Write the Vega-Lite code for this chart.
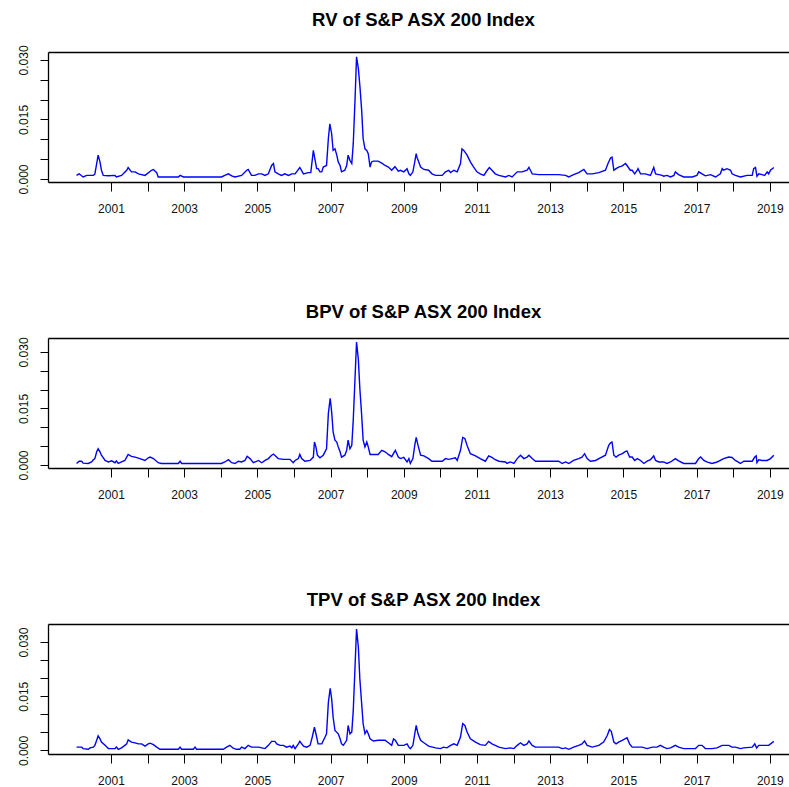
{
  "$schema": "https://vega.github.io/schema/vega-lite/v6.json",
  "padding": {"left": 16, "top": 11, "right": 0, "bottom": 0},
  "spacing": 156,
  "bounds": "flush",
  "config": {
    "font": "Liberation Sans",
    "view": {"stroke": null},
    "axis": {"grid": false, "domainColor": "#000", "tickColor": "#000", "labelColor": "#111", "labelFont": "Liberation Sans", "labelFontSize": 12, "domainWidth": 1.3, "tickWidth": 1},
    "title": {"font": "Liberation Sans", "fontSize": 18.5, "fontWeight": "bold", "color": "#000", "anchor": "middle", "baseline": "alphabetic", "offset": 15, "dx": 4}
  },
  "datasets": {
    "rv": [
{"t":2000.06,"v":0.0009},{"t":2000.13,"v":0.0013},{"t":2000.24,"v":0.0005},{"t":2000.34,"v":0.0009},{"t":2000.52,"v":0.0009},{"t":2000.56,"v":0.0012},{"t":2000.65,"v":0.0060},{"t":2000.70,"v":0.0043},{"t":2000.74,"v":0.0022},{"t":2000.79,"v":0.0009},{"t":2000.93,"v":0.0008},{"t":2001.11,"v":0.0009},{"t":2001.15,"v":0.0005},{"t":2001.29,"v":0.0009},{"t":2001.43,"v":0.0022},{"t":2001.47,"v":0.0029},{"t":2001.56,"v":0.0018},{"t":2001.66,"v":0.0018},{"t":2001.75,"v":0.0013},{"t":2001.93,"v":0.0009},{"t":2002.11,"v":0.0022},{"t":2002.16,"v":0.0024},{"t":2002.25,"v":0.0016},{"t":2002.29,"v":0.0005},{"t":2002.84,"v":0.0005},{"t":2002.89,"v":0.0009},{"t":2002.98,"v":0.0005},{"t":2004.02,"v":0.0005},{"t":2004.11,"v":0.0009},{"t":2004.21,"v":0.0013},{"t":2004.30,"v":0.0008},{"t":2004.39,"v":0.0005},{"t":2004.57,"v":0.0009},{"t":2004.71,"v":0.0022},{"t":2004.75,"v":0.0024},{"t":2004.84,"v":0.0009},{"t":2004.93,"v":0.0009},{"t":2005.03,"v":0.0013},{"t":2005.12,"v":0.0013},{"t":2005.21,"v":0.0009},{"t":2005.30,"v":0.0013},{"t":2005.39,"v":0.0034},{"t":2005.44,"v":0.0039},{"t":2005.48,"v":0.0018},{"t":2005.57,"v":0.0013},{"t":2005.66,"v":0.0009},{"t":2005.75,"v":0.0013},{"t":2005.85,"v":0.0009},{"t":2005.94,"v":0.0013},{"t":2006.03,"v":0.0013},{"t":2006.16,"v":0.0029},{"t":2006.26,"v":0.0013},{"t":2006.39,"v":0.0016},{"t":2006.46,"v":0.0016},{"t":2006.53,"v":0.0072},{"t":2006.57,"v":0.0051},{"t":2006.62,"v":0.0026},{"t":2006.66,"v":0.0026},{"t":2006.71,"v":0.0018},{"t":2006.76,"v":0.0018},{"t":2006.80,"v":0.0030},{"t":2006.89,"v":0.0034},{"t":2006.94,"v":0.0102},{"t":2006.98,"v":0.0139},{"t":2007.03,"v":0.0114},{"t":2007.07,"v":0.0072},{"t":2007.12,"v":0.0076},{"t":2007.17,"v":0.0060},{"t":2007.21,"v":0.0043},{"t":2007.26,"v":0.0034},{"t":2007.30,"v":0.0018},{"t":2007.39,"v":0.0022},{"t":2007.44,"v":0.0034},{"t":2007.48,"v":0.0060},{"t":2007.53,"v":0.0047},{"t":2007.58,"v":0.0039},{"t":2007.62,"v":0.0089},{"t":2007.67,"v":0.0203},{"t":2007.71,"v":0.0308},{"t":2007.76,"v":0.0278},{"t":2007.80,"v":0.0236},{"t":2007.85,"v":0.0173},{"t":2007.89,"v":0.0102},{"t":2007.94,"v":0.0076},{"t":2007.99,"v":0.0072},{"t":2008.03,"v":0.0064},{"t":2008.08,"v":0.0030},{"t":2008.12,"v":0.0043},{"t":2008.17,"v":0.0045},{"t":2008.30,"v":0.0045},{"t":2008.40,"v":0.0040},{"t":2008.49,"v":0.0034},{"t":2008.58,"v":0.0030},{"t":2008.67,"v":0.0022},{"t":2008.76,"v":0.0031},{"t":2008.85,"v":0.0020},{"t":2008.91,"v":0.0022},{"t":2009.00,"v":0.0018},{"t":2009.09,"v":0.0026},{"t":2009.14,"v":0.0013},{"t":2009.18,"v":0.0009},{"t":2009.25,"v":0.0018},{"t":2009.30,"v":0.0043},{"t":2009.34,"v":0.0064},{"t":2009.36,"v":0.0055},{"t":2009.41,"v":0.0043},{"t":2009.46,"v":0.0030},{"t":2009.55,"v":0.0024},{"t":2009.68,"v":0.0022},{"t":2009.77,"v":0.0013},{"t":2009.87,"v":0.0009},{"t":2010.05,"v":0.0009},{"t":2010.14,"v":0.0018},{"t":2010.23,"v":0.0022},{"t":2010.28,"v":0.0016},{"t":2010.37,"v":0.0022},{"t":2010.46,"v":0.0018},{"t":2010.55,"v":0.0039},{"t":2010.59,"v":0.0076},{"t":2010.64,"v":0.0072},{"t":2010.73,"v":0.0060},{"t":2010.82,"v":0.0043},{"t":2010.91,"v":0.0030},{"t":2011.00,"v":0.0018},{"t":2011.09,"v":0.0013},{"t":2011.19,"v":0.0009},{"t":2011.28,"v":0.0022},{"t":2011.34,"v":0.0029},{"t":2011.41,"v":0.0022},{"t":2011.50,"v":0.0013},{"t":2011.60,"v":0.0009},{"t":2011.78,"v":0.0005},{"t":2011.87,"v":0.0009},{"t":2011.96,"v":0.0005},{"t":2012.10,"v":0.0018},{"t":2012.23,"v":0.0018},{"t":2012.37,"v":0.0022},{"t":2012.42,"v":0.0029},{"t":2012.46,"v":0.0022},{"t":2012.51,"v":0.0013},{"t":2012.69,"v":0.0011},{"t":2013.05,"v":0.0011},{"t":2013.23,"v":0.0011},{"t":2013.42,"v":0.0009},{"t":2013.51,"v":0.0005},{"t":2013.64,"v":0.0011},{"t":2013.78,"v":0.0016},{"t":2013.92,"v":0.0024},{"t":2014.01,"v":0.0013},{"t":2014.15,"v":0.0013},{"t":2014.33,"v":0.0016},{"t":2014.51,"v":0.0022},{"t":2014.58,"v":0.0039},{"t":2014.65,"v":0.0053},{"t":2014.69,"v":0.0055},{"t":2014.74,"v":0.0022},{"t":2014.80,"v":0.0026},{"t":2014.87,"v":0.0030},{"t":2014.97,"v":0.0033},{"t":2015.06,"v":0.0039},{"t":2015.10,"v":0.0034},{"t":2015.19,"v":0.0022},{"t":2015.24,"v":0.0022},{"t":2015.31,"v":0.0013},{"t":2015.38,"v":0.0022},{"t":2015.40,"v":0.0026},{"t":2015.47,"v":0.0013},{"t":2015.60,"v":0.0013},{"t":2015.74,"v":0.0009},{"t":2015.83,"v":0.0029},{"t":2015.88,"v":0.0013},{"t":2015.97,"v":0.0011},{"t":2016.06,"v":0.0009},{"t":2016.10,"v":0.0007},{"t":2016.19,"v":0.0009},{"t":2016.29,"v":0.0005},{"t":2016.38,"v":0.0009},{"t":2016.42,"v":0.0018},{"t":2016.51,"v":0.0011},{"t":2016.65,"v":0.0005},{"t":2016.88,"v":0.0005},{"t":2017.01,"v":0.0009},{"t":2017.06,"v":0.0018},{"t":2017.15,"v":0.0013},{"t":2017.24,"v":0.0008},{"t":2017.38,"v":0.0011},{"t":2017.52,"v":0.0005},{"t":2017.65,"v":0.0013},{"t":2017.70,"v":0.0026},{"t":2017.74,"v":0.0022},{"t":2017.83,"v":0.0026},{"t":2017.93,"v":0.0022},{"t":2017.97,"v":0.0013},{"t":2018.06,"v":0.0009},{"t":2018.20,"v":0.0005},{"t":2018.38,"v":0.0009},{"t":2018.52,"v":0.0009},{"t":2018.56,"v":0.0026},{"t":2018.61,"v":0.0029},{"t":2018.65,"v":0.0007},{"t":2018.70,"v":0.0013},{"t":2018.79,"v":0.0011},{"t":2018.86,"v":0.0009},{"t":2018.93,"v":0.0018},{"t":2018.97,"v":0.0013},{"t":2019.02,"v":0.0022},{"t":2019.11,"v":0.0029}
    ],
    "bpv": [
{"t":2000.06,"v":0.0004},{"t":2000.13,"v":0.0010},{"t":2000.20,"v":0.0010},{"t":2000.24,"v":0.0005},{"t":2000.38,"v":0.0004},{"t":2000.47,"v":0.0008},{"t":2000.52,"v":0.0014},{"t":2000.56,"v":0.0017},{"t":2000.61,"v":0.0035},{"t":2000.65,"v":0.0043},{"t":2000.70,"v":0.0035},{"t":2000.74,"v":0.0026},{"t":2000.84,"v":0.0012},{"t":2000.93,"v":0.0008},{"t":2001.02,"v":0.0011},{"t":2001.11,"v":0.0006},{"t":2001.15,"v":0.0011},{"t":2001.20,"v":0.0004},{"t":2001.29,"v":0.0008},{"t":2001.38,"v":0.0012},{"t":2001.43,"v":0.0021},{"t":2001.47,"v":0.0028},{"t":2001.56,"v":0.0023},{"t":2001.66,"v":0.0021},{"t":2001.79,"v":0.0017},{"t":2001.93,"v":0.0012},{"t":2002.02,"v":0.0019},{"t":2002.07,"v":0.0021},{"t":2002.16,"v":0.0017},{"t":2002.29,"v":0.0006},{"t":2002.38,"v":0.0004},{"t":2002.84,"v":0.0004},{"t":2002.89,"v":0.0010},{"t":2002.93,"v":0.0004},{"t":2004.02,"v":0.0004},{"t":2004.11,"v":0.0008},{"t":2004.21,"v":0.0014},{"t":2004.30,"v":0.0006},{"t":2004.39,"v":0.0004},{"t":2004.48,"v":0.0010},{"t":2004.57,"v":0.0008},{"t":2004.66,"v":0.0012},{"t":2004.72,"v":0.0023},{"t":2004.80,"v":0.0017},{"t":2004.89,"v":0.0006},{"t":2005.03,"v":0.0012},{"t":2005.12,"v":0.0006},{"t":2005.21,"v":0.0012},{"t":2005.30,"v":0.0017},{"t":2005.39,"v":0.0026},{"t":2005.44,"v":0.0029},{"t":2005.57,"v":0.0017},{"t":2005.71,"v":0.0015},{"t":2005.89,"v":0.0015},{"t":2005.98,"v":0.0006},{"t":2006.03,"v":0.0012},{"t":2006.12,"v":0.0017},{"t":2006.16,"v":0.0028},{"t":2006.21,"v":0.0017},{"t":2006.30,"v":0.0010},{"t":2006.44,"v":0.0012},{"t":2006.53,"v":0.0021},{"t":2006.56,"v":0.0061},{"t":2006.60,"v":0.0048},{"t":2006.64,"v":0.0026},{"t":2006.71,"v":0.0019},{"t":2006.80,"v":0.0026},{"t":2006.89,"v":0.0043},{"t":2006.94,"v":0.0137},{"t":2006.99,"v":0.0177},{"t":2007.03,"v":0.0141},{"t":2007.07,"v":0.0088},{"t":2007.12,"v":0.0066},{"t":2007.17,"v":0.0061},{"t":2007.21,"v":0.0048},{"t":2007.26,"v":0.0035},{"t":2007.30,"v":0.0021},{"t":2007.39,"v":0.0026},{"t":2007.44,"v":0.0039},{"t":2007.48,"v":0.0066},{"t":2007.53,"v":0.0043},{"t":2007.58,"v":0.0052},{"t":2007.62,"v":0.0119},{"t":2007.67,"v":0.0234},{"t":2007.71,"v":0.0326},{"t":2007.76,"v":0.0279},{"t":2007.80,"v":0.0203},{"t":2007.85,"v":0.0132},{"t":2007.89,"v":0.0066},{"t":2007.94,"v":0.0048},{"t":2007.99,"v":0.0061},{"t":2008.03,"v":0.0048},{"t":2008.08,"v":0.0028},{"t":2008.17,"v":0.0028},{"t":2008.30,"v":0.0028},{"t":2008.40,"v":0.0039},{"t":2008.49,"v":0.0035},{"t":2008.58,"v":0.0028},{"t":2008.67,"v":0.0022},{"t":2008.77,"v":0.0039},{"t":2008.85,"v":0.0021},{"t":2008.91,"v":0.0017},{"t":2009.00,"v":0.0020},{"t":2009.09,"v":0.0008},{"t":2009.14,"v":0.0017},{"t":2009.18,"v":0.0004},{"t":2009.25,"v":0.0017},{"t":2009.30,"v":0.0052},{"t":2009.34,"v":0.0073},{"t":2009.39,"v":0.0052},{"t":2009.46,"v":0.0026},{"t":2009.55,"v":0.0024},{"t":2009.68,"v":0.0017},{"t":2009.77,"v":0.0010},{"t":2010.05,"v":0.0010},{"t":2010.14,"v":0.0017},{"t":2010.23,"v":0.0015},{"t":2010.32,"v":0.0017},{"t":2010.41,"v":0.0019},{"t":2010.46,"v":0.0012},{"t":2010.55,"v":0.0039},{"t":2010.61,"v":0.0073},{"t":2010.67,"v":0.0070},{"t":2010.73,"v":0.0052},{"t":2010.82,"v":0.0030},{"t":2010.96,"v":0.0024},{"t":2011.09,"v":0.0017},{"t":2011.23,"v":0.0010},{"t":2011.32,"v":0.0024},{"t":2011.41,"v":0.0020},{"t":2011.50,"v":0.0014},{"t":2011.60,"v":0.0010},{"t":2011.78,"v":0.0008},{"t":2011.82,"v":0.0004},{"t":2011.91,"v":0.0008},{"t":2012.01,"v":0.0004},{"t":2012.10,"v":0.0017},{"t":2012.19,"v":0.0026},{"t":2012.28,"v":0.0017},{"t":2012.37,"v":0.0021},{"t":2012.42,"v":0.0026},{"t":2012.51,"v":0.0017},{"t":2012.60,"v":0.0010},{"t":2013.23,"v":0.0010},{"t":2013.33,"v":0.0004},{"t":2013.42,"v":0.0008},{"t":2013.51,"v":0.0004},{"t":2013.64,"v":0.0012},{"t":2013.78,"v":0.0017},{"t":2013.87,"v":0.0021},{"t":2013.94,"v":0.0030},{"t":2014.01,"v":0.0017},{"t":2014.10,"v":0.0010},{"t":2014.24,"v":0.0012},{"t":2014.37,"v":0.0019},{"t":2014.51,"v":0.0026},{"t":2014.60,"v":0.0052},{"t":2014.65,"v":0.0059},{"t":2014.69,"v":0.0061},{"t":2014.74,"v":0.0026},{"t":2014.80,"v":0.0021},{"t":2014.87,"v":0.0026},{"t":2014.97,"v":0.0030},{"t":2015.06,"v":0.0036},{"t":2015.10,"v":0.0037},{"t":2015.17,"v":0.0021},{"t":2015.24,"v":0.0021},{"t":2015.31,"v":0.0012},{"t":2015.38,"v":0.0017},{"t":2015.47,"v":0.0012},{"t":2015.56,"v":0.0004},{"t":2015.65,"v":0.0010},{"t":2015.74,"v":0.0014},{"t":2015.83,"v":0.0024},{"t":2015.88,"v":0.0012},{"t":2015.97,"v":0.0008},{"t":2016.10,"v":0.0008},{"t":2016.19,"v":0.0004},{"t":2016.29,"v":0.0008},{"t":2016.42,"v":0.0017},{"t":2016.51,"v":0.0011},{"t":2016.65,"v":0.0004},{"t":2016.97,"v":0.0004},{"t":2017.06,"v":0.0017},{"t":2017.11,"v":0.0021},{"t":2017.20,"v":0.0012},{"t":2017.28,"v":0.0008},{"t":2017.42,"v":0.0004},{"t":2017.56,"v":0.0008},{"t":2017.65,"v":0.0012},{"t":2017.74,"v":0.0017},{"t":2017.88,"v":0.0021},{"t":2017.97,"v":0.0020},{"t":2018.06,"v":0.0012},{"t":2018.20,"v":0.0004},{"t":2018.29,"v":0.0010},{"t":2018.52,"v":0.0010},{"t":2018.59,"v":0.0021},{"t":2018.63,"v":0.0024},{"t":2018.65,"v":0.0006},{"t":2018.70,"v":0.0014},{"t":2018.79,"v":0.0012},{"t":2018.93,"v":0.0012},{"t":2019.02,"v":0.0017},{"t":2019.11,"v":0.0026}
    ],
    "tpv": [
{"t":2000.06,"v":0.0009},{"t":2000.20,"v":0.0009},{"t":2000.24,"v":0.0005},{"t":2000.38,"v":0.0003},{"t":2000.43,"v":0.0007},{"t":2000.52,"v":0.0009},{"t":2000.56,"v":0.0014},{"t":2000.61,"v":0.0028},{"t":2000.65,"v":0.0040},{"t":2000.70,"v":0.0032},{"t":2000.74,"v":0.0023},{"t":2000.84,"v":0.0014},{"t":2000.93,"v":0.0005},{"t":2001.11,"v":0.0005},{"t":2001.15,"v":0.0009},{"t":2001.20,"v":0.0003},{"t":2001.29,"v":0.0007},{"t":2001.38,"v":0.0014},{"t":2001.43,"v":0.0018},{"t":2001.47,"v":0.0029},{"t":2001.56,"v":0.0023},{"t":2001.66,"v":0.0021},{"t":2001.75,"v":0.0018},{"t":2001.84,"v":0.0018},{"t":2001.93,"v":0.0012},{"t":2002.02,"v":0.0018},{"t":2002.07,"v":0.0020},{"t":2002.16,"v":0.0016},{"t":2002.25,"v":0.0009},{"t":2002.34,"v":0.0003},{"t":2002.84,"v":0.0003},{"t":2002.89,"v":0.0009},{"t":2002.93,"v":0.0003},{"t":2003.25,"v":0.0003},{"t":2003.30,"v":0.0009},{"t":2003.34,"v":0.0003},{"t":2004.07,"v":0.0003},{"t":2004.16,"v":0.0009},{"t":2004.25,"v":0.0014},{"t":2004.34,"v":0.0006},{"t":2004.43,"v":0.0003},{"t":2004.52,"v":0.0003},{"t":2004.57,"v":0.0009},{"t":2004.66,"v":0.0005},{"t":2004.75,"v":0.0014},{"t":2004.84,"v":0.0009},{"t":2005.03,"v":0.0009},{"t":2005.21,"v":0.0005},{"t":2005.30,"v":0.0014},{"t":2005.39,"v":0.0025},{"t":2005.48,"v":0.0025},{"t":2005.53,"v":0.0018},{"t":2005.62,"v":0.0014},{"t":2005.71,"v":0.0014},{"t":2005.80,"v":0.0009},{"t":2005.89,"v":0.0012},{"t":2005.94,"v":0.0007},{"t":2005.98,"v":0.0014},{"t":2006.03,"v":0.0005},{"t":2006.12,"v":0.0018},{"t":2006.16,"v":0.0025},{"t":2006.26,"v":0.0012},{"t":2006.35,"v":0.0009},{"t":2006.44,"v":0.0014},{"t":2006.50,"v":0.0037},{"t":2006.56,"v":0.0064},{"t":2006.60,"v":0.0046},{"t":2006.66,"v":0.0018},{"t":2006.76,"v":0.0018},{"t":2006.85,"v":0.0037},{"t":2006.89,"v":0.0046},{"t":2006.94,"v":0.0133},{"t":2006.99,"v":0.0172},{"t":2007.03,"v":0.0143},{"t":2007.07,"v":0.0092},{"t":2007.12,"v":0.0055},{"t":2007.21,"v":0.0046},{"t":2007.26,"v":0.0032},{"t":2007.30,"v":0.0018},{"t":2007.35,"v":0.0014},{"t":2007.44,"v":0.0028},{"t":2007.48,"v":0.0069},{"t":2007.53,"v":0.0046},{"t":2007.58,"v":0.0051},{"t":2007.62,"v":0.0110},{"t":2007.67,"v":0.0235},{"t":2007.71,"v":0.0336},{"t":2007.76,"v":0.0285},{"t":2007.80,"v":0.0198},{"t":2007.85,"v":0.0129},{"t":2007.89,"v":0.0074},{"t":2007.94,"v":0.0046},{"t":2007.99,"v":0.0055},{"t":2008.03,"v":0.0046},{"t":2008.08,"v":0.0032},{"t":2008.17,"v":0.0026},{"t":2008.30,"v":0.0028},{"t":2008.49,"v":0.0028},{"t":2008.58,"v":0.0021},{"t":2008.67,"v":0.0014},{"t":2008.72,"v":0.0032},{"t":2008.77,"v":0.0028},{"t":2008.85,"v":0.0014},{"t":2009.00,"v":0.0014},{"t":2009.09,"v":0.0018},{"t":2009.14,"v":0.0009},{"t":2009.18,"v":0.0005},{"t":2009.25,"v":0.0014},{"t":2009.30,"v":0.0046},{"t":2009.34,"v":0.0069},{"t":2009.39,"v":0.0046},{"t":2009.46,"v":0.0028},{"t":2009.55,"v":0.0021},{"t":2009.68,"v":0.0012},{"t":2009.87,"v":0.0007},{"t":2010.00,"v":0.0005},{"t":2010.09,"v":0.0009},{"t":2010.18,"v":0.0007},{"t":2010.28,"v":0.0014},{"t":2010.37,"v":0.0018},{"t":2010.46,"v":0.0014},{"t":2010.55,"v":0.0037},{"t":2010.61,"v":0.0074},{"t":2010.67,"v":0.0069},{"t":2010.73,"v":0.0051},{"t":2010.82,"v":0.0032},{"t":2010.96,"v":0.0023},{"t":2011.09,"v":0.0016},{"t":2011.23,"v":0.0014},{"t":2011.32,"v":0.0025},{"t":2011.41,"v":0.0018},{"t":2011.50,"v":0.0014},{"t":2011.60,"v":0.0009},{"t":2011.78,"v":0.0005},{"t":2011.91,"v":0.0007},{"t":2012.01,"v":0.0005},{"t":2012.10,"v":0.0014},{"t":2012.19,"v":0.0021},{"t":2012.28,"v":0.0014},{"t":2012.37,"v":0.0018},{"t":2012.42,"v":0.0026},{"t":2012.51,"v":0.0014},{"t":2012.60,"v":0.0009},{"t":2013.23,"v":0.0009},{"t":2013.33,"v":0.0005},{"t":2013.42,"v":0.0007},{"t":2013.51,"v":0.0003},{"t":2013.64,"v":0.0009},{"t":2013.78,"v":0.0014},{"t":2013.87,"v":0.0018},{"t":2013.94,"v":0.0026},{"t":2014.01,"v":0.0014},{"t":2014.15,"v":0.0009},{"t":2014.33,"v":0.0014},{"t":2014.46,"v":0.0023},{"t":2014.56,"v":0.0041},{"t":2014.62,"v":0.0058},{"t":2014.67,"v":0.0053},{"t":2014.74,"v":0.0023},{"t":2014.80,"v":0.0018},{"t":2014.87,"v":0.0023},{"t":2014.97,"v":0.0028},{"t":2015.10,"v":0.0035},{"t":2015.17,"v":0.0018},{"t":2015.24,"v":0.0009},{"t":2015.38,"v":0.0009},{"t":2015.51,"v":0.0009},{"t":2015.65,"v":0.0005},{"t":2015.79,"v":0.0009},{"t":2015.92,"v":0.0009},{"t":2016.01,"v":0.0014},{"t":2016.10,"v":0.0009},{"t":2016.19,"v":0.0005},{"t":2016.29,"v":0.0007},{"t":2016.42,"v":0.0014},{"t":2016.51,"v":0.0009},{"t":2016.65,"v":0.0005},{"t":2016.97,"v":0.0005},{"t":2017.06,"v":0.0014},{"t":2017.15,"v":0.0014},{"t":2017.24,"v":0.0005},{"t":2017.42,"v":0.0005},{"t":2017.56,"v":0.0007},{"t":2017.70,"v":0.0014},{"t":2017.79,"v":0.0014},{"t":2017.88,"v":0.0014},{"t":2017.97,"v":0.0009},{"t":2018.06,"v":0.0009},{"t":2018.20,"v":0.0005},{"t":2018.29,"v":0.0007},{"t":2018.52,"v":0.0009},{"t":2018.59,"v":0.0018},{"t":2018.64,"v":0.0007},{"t":2018.70,"v":0.0014},{"t":2018.79,"v":0.0014},{"t":2018.97,"v":0.0014},{"t":2019.11,"v":0.0025}
    ]
  },
  "vconcat": [
    {
      "title": "RV of S&P ASX 200 Index",
      "width": 743, "height": 130,
      "data": {"name": "rv"},
      "layer": [
        {"mark": {"type": "line", "color": "#0000ff", "strokeWidth": 1.4},
         "encoding": {
           "x": {"field": "t", "type": "quantitative", "scale": {"domain": [1999.28, 2019.58], "nice": false, "zero": false},
                 "axis": {"orient": "bottom", "title": null, "values": [2001,2002,2003,2004,2005,2006,2007,2008,2009,2010,2011,2012,2013,2014,2015,2016,2017,2018,2019], "format": "d", "labelExpr": "datum.value % 2 == 1 ? datum.label : ''", "tickSize": 9, "labelPadding": 12, "labelFlush": false, "labelOverlap": false}},
           "y": {"field": "v", "type": "quantitative", "scale": {"domain": [-0.00076, 0.032], "nice": false, "zero": false},
                 "axis": {"title": null, "values": [0, 0.005, 0.01, 0.015, 0.02, 0.025, 0.03], "labelExpr": "(abs(datum.value) < 1e-9 || abs(datum.value - 0.015) < 1e-9 || abs(datum.value - 0.03) < 1e-9) ? format(datum.value, '.3f') : ''", "labelAngle": 270, "labelAlign": "center", "labelBaseline": "bottom", "tickSize": 8, "labelPadding": 10, "labelFlush": false, "labelOverlap": false}}
         }},
        {"mark": {"type": "line", "opacity": 0},
         "encoding": {
           "x": {"field": "t", "type": "quantitative", "axis": {"orient": "top", "title": null, "labels": false, "ticks": false}},
           "y": {"field": "v", "type": "quantitative",
                 "axis": {"title": null, "values": [0, 0.005, 0.01, 0.015, 0.02, 0.025, 0.03], "labelExpr": "(abs(datum.value) < 1e-9 || abs(datum.value - 0.015) < 1e-9 || abs(datum.value - 0.03) < 1e-9) ? format(datum.value, '.3f') : ''", "labelAngle": 270, "labelAlign": "center", "labelBaseline": "bottom", "tickSize": 8, "labelPadding": 10, "labelFlush": false, "labelOverlap": false}}
         }}
      ],
      "resolve": {"axis": {"x": "independent"}}
    },
    {
      "title": "BPV of S&P ASX 200 Index",
      "width": 743, "height": 130,
      "data": {"name": "bpv"},
      "layer": [
        {"mark": {"type": "line", "color": "#0000ff", "strokeWidth": 1.4},
         "encoding": {
           "x": {"field": "t", "type": "quantitative", "scale": {"domain": [1999.28, 2019.58], "nice": false, "zero": false},
                 "axis": {"orient": "bottom", "title": null, "values": [2001,2002,2003,2004,2005,2006,2007,2008,2009,2010,2011,2012,2013,2014,2015,2016,2017,2018,2019], "format": "d", "labelExpr": "datum.value % 2 == 1 ? datum.label : ''", "tickSize": 9, "labelPadding": 12, "labelFlush": false, "labelOverlap": false}},
           "y": {"field": "v", "type": "quantitative", "scale": {"domain": [-0.0008, 0.0337], "nice": false, "zero": false},
                 "axis": {"title": null, "values": [0, 0.005, 0.01, 0.015, 0.02, 0.025, 0.03], "labelExpr": "(abs(datum.value) < 1e-9 || abs(datum.value - 0.015) < 1e-9 || abs(datum.value - 0.03) < 1e-9) ? format(datum.value, '.3f') : ''", "labelAngle": 270, "labelAlign": "center", "labelBaseline": "bottom", "tickSize": 8, "labelPadding": 10, "labelFlush": false, "labelOverlap": false}}
         }},
        {"mark": {"type": "line", "opacity": 0},
         "encoding": {
           "x": {"field": "t", "type": "quantitative", "axis": {"orient": "top", "title": null, "labels": false, "ticks": false}},
           "y": {"field": "v", "type": "quantitative",
                 "axis": {"title": null, "values": [0, 0.005, 0.01, 0.015, 0.02, 0.025, 0.03], "labelExpr": "(abs(datum.value) < 1e-9 || abs(datum.value - 0.015) < 1e-9 || abs(datum.value - 0.03) < 1e-9) ? format(datum.value, '.3f') : ''", "labelAngle": 270, "labelAlign": "center", "labelBaseline": "bottom", "tickSize": 8, "labelPadding": 10, "labelFlush": false, "labelOverlap": false}}
         }}
      ],
      "resolve": {"axis": {"x": "independent"}}
    },
    {
      "title": "TPV of S&P ASX 200 Index",
      "width": 743, "height": 130,
      "data": {"name": "tpv"},
      "layer": [
        {"mark": {"type": "line", "color": "#0000ff", "strokeWidth": 1.4},
         "encoding": {
           "x": {"field": "t", "type": "quantitative", "scale": {"domain": [1999.28, 2019.58], "nice": false, "zero": false},
                 "axis": {"orient": "bottom", "title": null, "values": [2001,2002,2003,2004,2005,2006,2007,2008,2009,2010,2011,2012,2013,2014,2015,2016,2017,2018,2019], "format": "d", "labelExpr": "datum.value % 2 == 1 ? datum.label : ''", "tickSize": 9, "labelPadding": 12, "labelFlush": false, "labelOverlap": false}},
           "y": {"field": "v", "type": "quantitative", "scale": {"domain": [-0.001, 0.035], "nice": false, "zero": false},
                 "axis": {"title": null, "values": [0, 0.005, 0.01, 0.015, 0.02, 0.025, 0.03], "labelExpr": "(abs(datum.value) < 1e-9 || abs(datum.value - 0.015) < 1e-9 || abs(datum.value - 0.03) < 1e-9) ? format(datum.value, '.3f') : ''", "labelAngle": 270, "labelAlign": "center", "labelBaseline": "bottom", "tickSize": 8, "labelPadding": 10, "labelFlush": false, "labelOverlap": false}}
         }},
        {"mark": {"type": "line", "opacity": 0},
         "encoding": {
           "x": {"field": "t", "type": "quantitative", "axis": {"orient": "top", "title": null, "labels": false, "ticks": false}},
           "y": {"field": "v", "type": "quantitative",
                 "axis": {"title": null, "values": [0, 0.005, 0.01, 0.015, 0.02, 0.025, 0.03], "labelExpr": "(abs(datum.value) < 1e-9 || abs(datum.value - 0.015) < 1e-9 || abs(datum.value - 0.03) < 1e-9) ? format(datum.value, '.3f') : ''", "labelAngle": 270, "labelAlign": "center", "labelBaseline": "bottom", "tickSize": 8, "labelPadding": 10, "labelFlush": false, "labelOverlap": false}}
         }}
      ],
      "resolve": {"axis": {"x": "independent"}}
    }
  ]
}
